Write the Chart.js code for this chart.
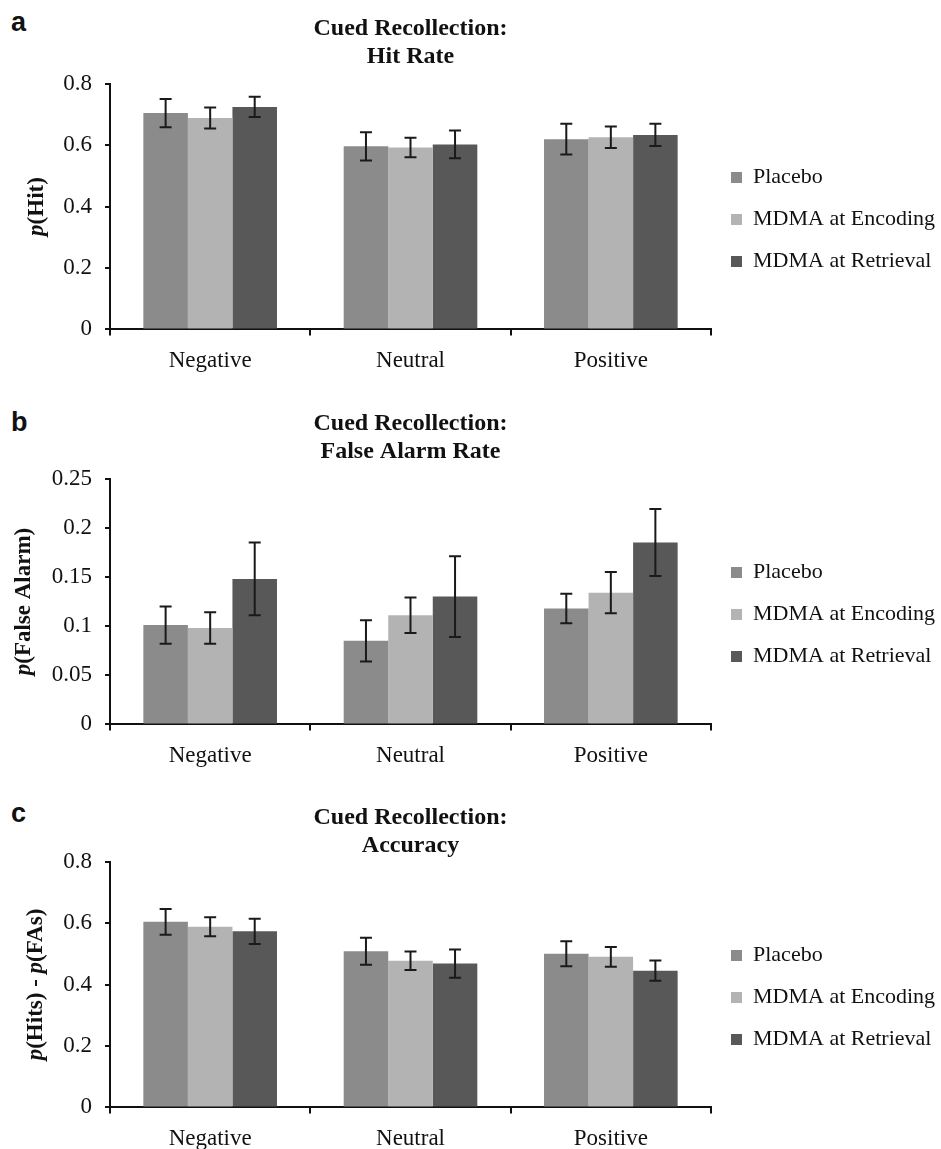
<!DOCTYPE html>
<html lang="en">
<head>
<meta charset="UTF-8">
<title>Cued Recollection</title>
<script src="https://cdn.jsdelivr.net/npm/chart.js"></script>
<style>
    body {
        margin: 0;
        background: #fff;
        width: 941px;
        height: 1149px;
        position: relative;
        overflow: hidden;
    }
    .panel { position: absolute; left: 0; }
    .tag {
        position: absolute;
        left: 11px;
        font: bold 27px "Liberation Sans", Arial, sans-serif;
        line-height: 27px;
        color: #111;
    }
</style>
</head>
<body>
<div class="tag" style="top:9px">a</div>
<div class="tag" style="top:409px">b</div>
<div class="tag" style="top:800px">c</div>
<canvas id="chartA" class="panel" width="941" height="387" style="top:0px"></canvas>
<canvas id="chartB" class="panel" width="941" height="387" style="top:395px"></canvas>
<canvas id="chartC" class="panel" width="941" height="376" style="top:789px"></canvas>

<script>
var categories = ['Negative', 'Neutral', 'Positive'];
var seriesNames = ['Placebo', 'MDMA at Encoding', 'MDMA at Retrieval'];
var seriesColors = ['#8b8b8b', '#b3b3b3', '#585858'];

// a: hit rate
var hitPlacebo = [0.704, 0.596, 0.619];
var hitEncoding = [0.688, 0.592, 0.625];
var hitRetrieval = [0.724, 0.602, 0.633];
var hitPlaceboErr = [0.046, 0.046, 0.050];
var hitEncodingErr = [0.034, 0.032, 0.035];
var hitRetrievalErr = [0.033, 0.045, 0.036];

// b: false alarm rate
var faPlacebo = [0.101, 0.085, 0.118];
var faEncoding = [0.098, 0.111, 0.134];
var faRetrieval = [0.148, 0.130, 0.185];
var faPlaceboErr = [0.019, 0.021, 0.015];
var faEncodingErr = [0.016, 0.018, 0.021];
var faRetrievalErr = [0.037, 0.041, 0.034];

// c: accuracy
var accPlacebo = [0.604, 0.508, 0.500];
var accEncoding = [0.588, 0.477, 0.490];
var accRetrieval = [0.573, 0.468, 0.445];
var accPlaceboErr = [0.042, 0.044, 0.041];
var accEncodingErr = [0.031, 0.030, 0.032];
var accRetrievalErr = [0.041, 0.046, 0.033];

var hitTicks = [0, 0.2, 0.4, 0.6, 0.8];
var hitTickLabels = ['0', '0.2', '0.4', '0.6', '0.8'];
var faTicks = [0, 0.05, 0.1, 0.15, 0.2, 0.25];
var faTickLabels = ['0', '0.05', '0.1', '0.15', '0.2', '0.25'];

var serif = '"Liberation Serif", "Times New Roman", serif';

var errorBars = {
    id: 'errorBars',
    afterDatasetsDraw: function (chart) {
        var ctx = chart.ctx, y = chart.scales.y;
        ctx.save();
        ctx.strokeStyle = '#1a1a1a';
        ctx.lineWidth = 2;
        chart.data.datasets.forEach(function (ds, i) {
            chart.getDatasetMeta(i).data.forEach(function (bar, j) {
                var v = ds.data[j], e = ds.errors[j];
                var top = y.getPixelForValue(v + e), bot = y.getPixelForValue(v - e);
                ctx.beginPath();
                ctx.moveTo(bar.x, top); ctx.lineTo(bar.x, bot);
                ctx.moveTo(bar.x - 6, top); ctx.lineTo(bar.x + 6, top);
                ctx.moveTo(bar.x - 6, bot); ctx.lineTo(bar.x + 6, bot);
                ctx.stroke();
            });
        });
        ctx.restore();
    }
};

// y title with italic "p"
var yTitle = {
    id: 'yTitle',
    afterDraw: function (chart, args, o) {
        var ctx = chart.ctx, area = chart.chartArea;
        var parts = o.text.split(/(p)(?=\()/).filter(Boolean);
        var fonts = parts.map(function (p) {
            return (p === 'p' ? 'italic ' : '') + 'bold 23px ' + serif;
        });
        var total = 0;
        parts.forEach(function (p, i) { ctx.font = fonts[i]; total += ctx.measureText(p).width; });
        ctx.save();
        ctx.translate(o.x, (area.top + area.bottom) / 2);
        ctx.rotate(-Math.PI / 2);
        ctx.fillStyle = '#111';
        ctx.textBaseline = 'middle';
        ctx.textAlign = 'left';
        var x = -total / 2;
        parts.forEach(function (p, i) {
            ctx.font = fonts[i];
            ctx.fillText(p, x, 0);
            x += ctx.measureText(p).width;
        });
        ctx.restore();
    }
};

function makeChart(id, cfg) {
    var datasets = seriesNames.map(function (name, i) {
        return {
            label: name,
            data: cfg.values[i],
            errors: cfg.errors[i],
            backgroundColor: seriesColors[i],
            borderWidth: 0,
            categoryPercentage: 0.667,
            barPercentage: 1.0
        };
    });
    return new Chart(document.getElementById(id), {
        type: 'bar',
        data: { labels: categories, datasets: datasets },
        plugins: [errorBars, yTitle],
        options: {
            responsive: false,
            animation: false,
            devicePixelRatio: 1,
            layout: { padding: 0 },
            plugins: {
                tooltip: { enabled: false },
                title: {
                    display: true,
                    text: cfg.title,
                    fullSize: false,
                    color: '#111',
                    font: { family: serif, size: 24, weight: 'bold', lineHeight: 1.2 },
                    padding: { top: 14, bottom: cfg.titlePad }
                },
                legend: {
                    position: 'right',
                    fullSize: false,
                    maxWidth: 230,
                    title: { display: true, text: ' ', font: { size: 10, lineHeight: 1.2 }, padding: 7 },
                    labels: {
                        boxWidth: 11,
                        boxHeight: 11,
                        padding: 20,
                        color: '#111',
                        font: { family: serif, size: 22 }
                    }
                },
                yTitle: { text: cfg.yLabel, x: cfg.yTitleX }
            },
            scales: {
                x: {
                    grid: {
                        offset: true,
                        drawOnChartArea: false,
                        drawTicks: true,
                        tickLength: 6,
                        color: '#111',
                        lineWidth: 2
                    },
                    border: { color: '#111', width: 2 },
                    ticks: {
                        color: '#111',
                        padding: 12,
                        maxRotation: 0,
                        font: { family: serif, size: 23 }
                    }
                },
                y: {
                    min: 0,
                    max: cfg.ticks[cfg.ticks.length - 1],
                    afterBuildTicks: function (axis) {
                        axis.ticks = cfg.ticks.map(function (v) { return { value: v }; });
                    },
                    afterFit: function (axis) { axis.width = 110; },
                    grid: {
                        drawOnChartArea: false,
                        drawTicks: true,
                        tickLength: 5,
                        color: '#111',
                        lineWidth: 2
                    },
                    border: { color: '#111', width: 2 },
                    ticks: {
                        color: '#111',
                        padding: 13,
                        font: { family: serif, size: 23 },
                        callback: function (value, index) { return cfg.tickLabels[index]; }
                    }
                }
            }
        }
    });
}

makeChart('chartA', {
    title: ['Cued Recollection:', 'Hit Rate'],
    titlePad: 12,
    yLabel: 'p(Hit)',
    yTitleX: 37,
    ticks: hitTicks,
    tickLabels: hitTickLabels,
    values: [hitPlacebo, hitEncoding, hitRetrieval],
    errors: [hitPlaceboErr, hitEncodingErr, hitRetrievalErr]
});

makeChart('chartB', {
    title: ['Cued Recollection:', 'False Alarm Rate'],
    titlePad: 12,
    yLabel: 'p(False Alarm)',
    yTitleX: 24,
    ticks: faTicks,
    tickLabels: faTickLabels,
    values: [faPlacebo, faEncoding, faRetrieval],
    errors: [faPlaceboErr, faEncodingErr, faRetrievalErr]
});

makeChart('chartC', {
    title: ['Cued Recollection:', 'Accuracy'],
    titlePad: 1,
    yLabel: 'p(Hits) - p(FAs)',
    yTitleX: 36,
    ticks: hitTicks,
    tickLabels: hitTickLabels,
    values: [accPlacebo, accEncoding, accRetrieval],
    errors: [accPlaceboErr, accEncodingErr, accRetrievalErr]
});
</script>
</body>
</html>
